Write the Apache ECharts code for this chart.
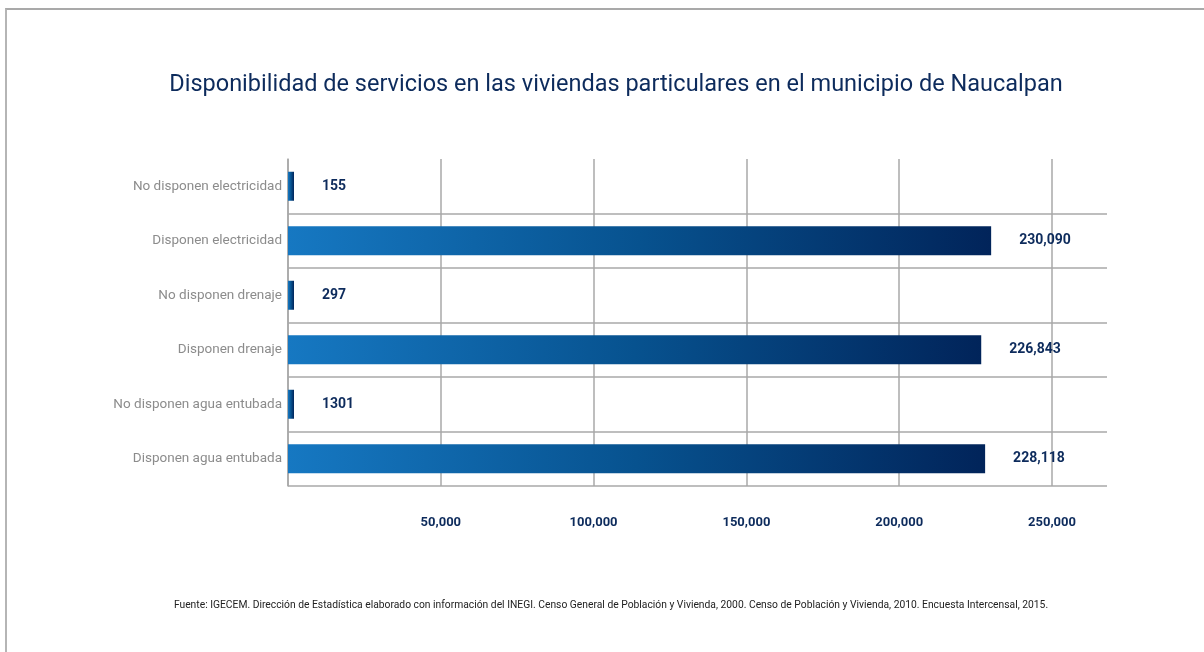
<!DOCTYPE html>
<html>
<head>
<meta charset="utf-8">
<script src="https://cdn.jsdelivr.net/npm/echarts@6/dist/echarts.min.js"></script>
<style>
  html, body { margin: 0; padding: 0; background: #fff; }
  #marco {
    position: absolute; left: 5px; top: 8px; width: 1199px; height: 644px;
    border-top: 2px solid #a9a9a9; border-left: 2px solid #b5b5b5;
  }
  #grafica { position: absolute; left: 0; top: 0; width: 1204px; height: 652px; }
</style>
</head>
<body>
<div id="marco"></div>
<div id="grafica"></div>
<script>
// categorías (de abajo hacia arriba)
var categorias = [
  "Disponen agua entubada",
  "No disponen agua entubada",
  "Disponen drenaje",
  "No disponen drenaje",
  "Disponen electricidad",
  "No disponen electricidad"
];
// viviendas
var viviendas = [228118, 1301, 226843, 297, 230090, 155];
// etiquetas del eje x
var marcasEje = [50000, 100000, 150000, 200000, 250000];

var fuente = "Roboto, 'Noto Sans', sans-serif";
var azulOscuro = "#0d2b5c";

function formatoMiles(v) {
  return String(v).replace(/\B(?=(\d{3})+(?!\d))/g, ",");
}

var grafica = echarts.init(document.getElementById("grafica"));

var option = {
  backgroundColor: "transparent",
  title: [
    {
      text: "Disponibilidad de servicios en las viviendas particulares en el municipio de Naucalpan",
      left: 611,
      textAlign: "center",
      top: 68,
      textStyle: {
        fontFamily: fuente,
        fontSize: 23.5,
        fontWeight: "normal",
        color: azulOscuro
      }
    },
    {
      text: "Fuente: IGECEM. Dirección de Estadística elaborado con información del INEGI. Censo General de Población y Vivienda, 2000. Censo de Población y Vivienda, 2010. Encuesta Intercensal, 2015.",
      left: 606,
      textAlign: "center",
      top: 595,
      textStyle: {
        fontFamily: fuente,
        fontSize: 10.3,
        fontWeight: "normal",
        color: "#222"
      }
    }
  ],
  grid: {
    left: 288,
    right: 97,
    top: 159,
    bottom: 166,
    containLabel: false
  },
  xAxis: {
    type: "value",
    min: 0,
    max: 268000,
    interval: 50000,
    axisLine: { show: false },
    axisTick: { show: false },
    splitLine: {
      show: true,
      showMaxLine: false,
      lineStyle: { color: "#a8a8a8", width: 1.5 }
    },
    axisLabel: {
      margin: 30,
      showMinLabel: false,
      showMaxLabel: false,
      fontFamily: fuente,
      fontSize: 13,
      fontWeight: "bold",
      color: azulOscuro,
      formatter: function (v) {
        return marcasEje.indexOf(v) >= 0 ? formatoMiles(v) : "";
      }
    }
  },
  yAxis: {
    type: "category",
    data: categorias,
    axisLine: { show: true, lineStyle: { color: "#a8a8a8", width: 1.5 } },
    axisTick: { show: false },
    splitLine: {
      show: true,
      showMaxLine: false,
      lineStyle: { color: "#a8a8a8", width: 1.5 }
    },
    axisLabel: {
      margin: 6,
      fontFamily: fuente,
      fontSize: 13.5,
      color: "#8c8c8c"
    }
  },
  series: [
    {
      name: "Viviendas",
      type: "bar",
      data: viviendas,
      barWidth: 29,
      barMinHeight: 6,
      itemStyle: {
        color: new echarts.graphic.LinearGradient(0, 0, 1, 0, [
          { offset: 0, color: "#1678c2" },
          { offset: 0.5, color: "#07528f" },
          { offset: 1, color: "#01245a" }
        ])
      },
      label: {
        show: true,
        position: "right",
        distance: 28,
        fontFamily: fuente,
        fontSize: 14,
        fontWeight: "bold",
        color: azulOscuro,
        formatter: function (p) {
          return p.value < 10000 ? String(p.value) : formatoMiles(p.value);
        }
      }
    }
  ]
};

grafica.setOption(option);
</script>
</body>
</html>
